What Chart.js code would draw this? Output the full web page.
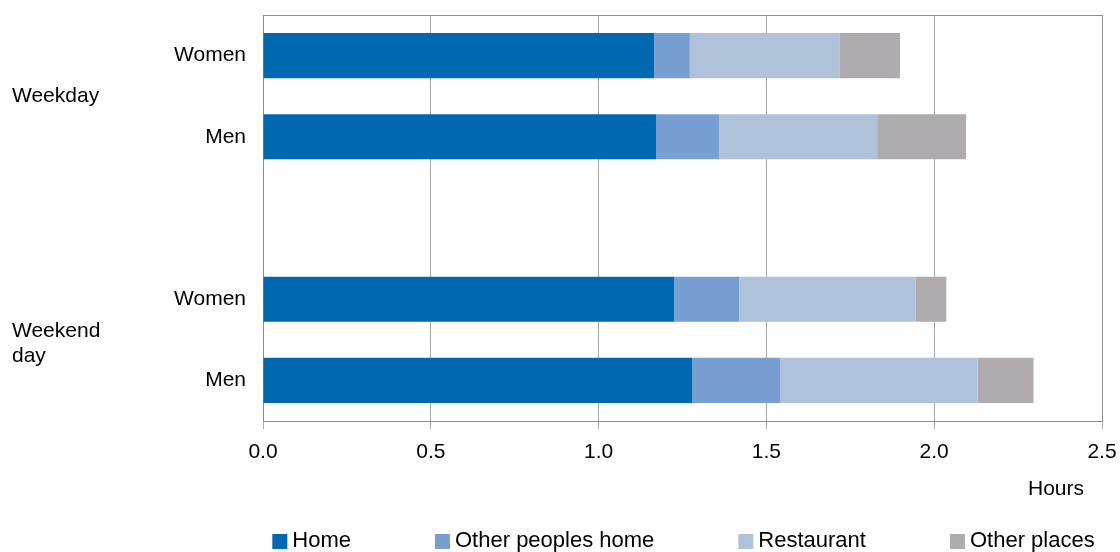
<!DOCTYPE html>
<html>
<head>
<meta charset="utf-8">
<script src="https://cdn.jsdelivr.net/npm/chart.js@4/dist/chart.umd.min.js"></script>
<style>
  html, body { margin: 0; padding: 0; background: #ffffff; }
  #c { display: block; }
</style>
</head>
<body>
<canvas id="c" width="1120" height="552"></canvas>
<script>
// ---- data ----
const categories = ['Women', 'Men', '', 'Women', 'Men'];
const groupLabels = [['Weekday'], ['Weekend', 'day']];
const groupRows = [[0, 1], [3, 4]];
const seriesNames = ['Home', 'Other peoples home', 'Restaurant', 'Other places'];
const home        = [1.165, 1.171, null, 1.225, 1.279];
const otherHomes  = [0.107, 0.188, null, 0.194, 0.262];
const restaurant  = [0.447, 0.471, null, 0.525, 0.588];
const otherPlaces = [0.179, 0.265, null, 0.092, 0.167];
const xTickValues = [0, 0.5, 1.0, 1.5, 2.0, 2.5];
const xTitle = 'Hours';

const colors = ['#0067b1', '#789fd2', '#b0c1da', '#b0abaf'];
const FONT = "'Liberation Sans', Arial, sans-serif";

const seriesValues = [home, otherHomes, restaurant, otherPlaces];

const extras = {
  id: 'extras',
  beforeDatasetsDraw(chart) {
    const ctx = chart.ctx, a = chart.chartArea;
    ctx.save();
    ctx.strokeStyle = '#8c8c8c';
    ctx.lineWidth = 1;
    ctx.beginPath();
    ctx.moveTo(a.left, a.top + 0.5);
    ctx.lineTo(a.right + 0.5, a.top + 0.5);
    ctx.lineTo(a.right + 0.5, a.bottom);
    ctx.stroke();
    ctx.restore();
  },
  afterDraw(chart) {
    const ctx = chart.ctx, a = chart.chartArea;
    const y = chart.scales.y;
    ctx.save();
    ctx.fillStyle = '#000';
    ctx.font = '21px ' + FONT;
    ctx.textBaseline = 'middle';
    ctx.textAlign = 'left';
    // group labels
    groupLabels.forEach((lines, i) => {
      const rows = groupRows[i];
      const mid = (y.getPixelForValue(rows[0]) + y.getPixelForValue(rows[1])) / 2;
      const lh = 25;
      const start = mid - (lines.length - 1) * lh / 2 + (lines.length > 1 ? 4 : 0);
      lines.forEach((t, j) => ctx.fillText(t, 12, start + j * lh));
    });
    // axis title
    ctx.textAlign = 'right';
    ctx.fillText(xTitle, a.right - 18, a.bottom + 68);
    // legend
    ctx.font = '22px ' + FONT;
    ctx.textAlign = 'left';
    const box = 15, gapText = 5, gapItem = 84;
    const widths = seriesNames.map(n => box + gapText + ctx.measureText(n).width);
    const total = widths.reduce((s, w) => s + w, 0) + gapItem * (seriesNames.length - 1);
    let x = (a.left + a.right) / 2 - total / 2 + 1;
    const ly = 541;
    seriesNames.forEach((n, i) => {
      ctx.fillStyle = colors[i];
      ctx.fillRect(x, ly - 7, box, box);
      ctx.fillStyle = '#000';
      ctx.fillText(n, x + box + gapText, ly);
      x += widths[i] + gapItem;
    });
    ctx.restore();
  }
};

new Chart(document.getElementById('c'), {
  type: 'bar',
  data: {
    labels: categories,
    datasets: seriesNames.map((name, i) => ({
      label: name,
      data: seriesValues[i],
      backgroundColor: colors[i],
      borderWidth: 0,
      barPercentage: 0.555,
      categoryPercentage: 1.0
    }))
  },
  options: {
    indexAxis: 'y',
    responsive: false,
    animation: false,
    layout: { padding: { top: 15, right: 18, left: 0, bottom: 0 } },
    plugins: {
      legend: { display: false },
      tooltip: { enabled: false }
    },
    scales: {
      x: {
        stacked: true,
        min: 0,
        max: 2.5,
        afterBuildTicks(scale) { scale.ticks = xTickValues.map(v => ({ value: v })); },
        afterFit(scale) { scale.height = 131; scale.paddingLeft = 0; scale.paddingRight = 0; },
        grid: { color: '#a8a8a8', lineWidth: 1, tickLength: 8, drawTicks: true },
        border: { display: true, color: '#8c8c8c', width: 1 },
        ticks: {
          font: { family: FONT, size: 21 },
          color: '#000',
          padding: 11,
          maxRotation: 0,
          callback: v => Number(v).toFixed(1)
        }
      },
      y: {
        stacked: true,
        afterFit(scale) { scale.width = 263; scale.paddingTop = 0; scale.paddingBottom = 0; },
        grid: { display: false, drawTicks: false },
        border: { display: true, color: '#8c8c8c', width: 1 },
        ticks: {
          font: { family: FONT, size: 21 },
          color: '#000',
          padding: 17,
          crossAlign: 'near'
        }
      }
    }
  },
  plugins: [extras]
});
</script>
</body>
</html>
